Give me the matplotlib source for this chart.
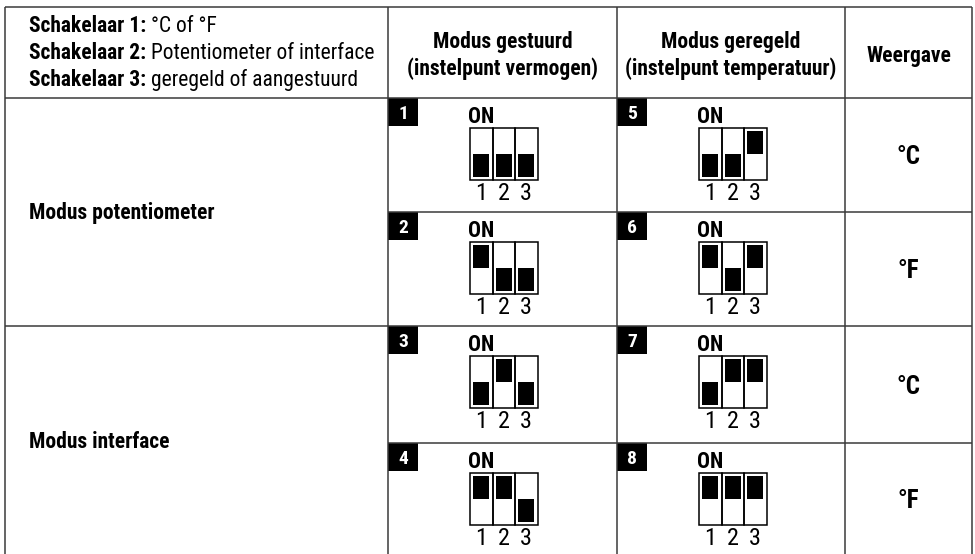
import matplotlib
matplotlib.use("Agg")
import matplotlib.pyplot as plt
from matplotlib import font_manager
from matplotlib.patches import Rectangle

# pick a narrow font if one is around
names = {f.name for f in font_manager.fontManager.ttflist}
font = next((n for n in ["Liberation Sans Narrow", "Roboto Condensed", "Liberation Sans"] if n in names), "DejaVu Sans")
plt.rcParams["font.family"] = [font, "DejaVu Sans"]

# table content
legend_keys = ["Schakelaar 1:", "Schakelaar 2:", "Schakelaar 3:"]
legend_vals = ["°C of °F", "Potentiometer of interface", "geregeld of aangestuurd"]
col_headers = [["Modus gestuurd", "(instelpunt vermogen)"],
               ["Modus geregeld", "(instelpunt temperatuur)"],
               ["Weergave"]]
modes = ["Modus potentiometer", "Modus interface"]
displays = ["°C", "°F", "°C", "°F"]

# DIP switch positions per setting (1 = ON / up)
settings = [1, 2, 3, 4, 5, 6, 7, 8]
switch1 = [0, 1, 0, 1, 0, 1, 0, 1]
switch2 = [0, 0, 1, 1, 0, 0, 1, 1]
switch3 = [0, 0, 0, 0, 1, 1, 1, 1]
switch_labels = ["1", "2", "3"]

# layout in pixels
col_x = [5, 388, 617, 845, 972]
row_y = [7, 98, 212, 326, 443, 554]
line_c = "#3a3a3a"
fs = 15.5

fig = plt.figure(figsize=(9.75, 5.54), dpi=100)
ax = fig.add_axes([0, 0, 1, 1])
ax.set_xlim(0, 975)
ax.set_ylim(554, 0)
ax.axis("off")

# grid lines
for y in [row_y[0], row_y[1], row_y[3]]:
    ax.plot([col_x[0], col_x[-1]], [y, y], color=line_c, lw=1.1, solid_capstyle="butt")
for y in [row_y[2], row_y[4]]:
    ax.plot([col_x[1], col_x[-1]], [y, y], color=line_c, lw=1.1, solid_capstyle="butt")
for x in col_x:
    ax.plot([x, x], [row_y[0], row_y[-1]], color=line_c, lw=1.1, solid_capstyle="butt")

# header, left cell with bold key + regular value
fig.canvas.draw()
renderer = fig.canvas.get_renderer()
for i, (k, v) in enumerate(zip(legend_keys, legend_vals)):
    yb = 32 + 27 * i
    t = ax.text(29, yb, k, fontsize=fs, fontweight="bold", va="baseline", ha="left")
    bb = t.get_window_extent(renderer)
    ax.text(bb.x1 + 5, yb, v, fontsize=fs, va="baseline", ha="left")

# header, other cells
for c, lines in enumerate(col_headers):
    cx = (col_x[c + 1] + col_x[c + 2]) / 2
    if len(lines) == 2:
        ax.text(cx, 48, lines[0], fontsize=fs, fontweight="bold", ha="center", va="baseline")
        ax.text(cx, 75, lines[1], fontsize=fs, fontweight="bold", ha="center", va="baseline")
    else:
        ax.text(cx, 62, lines[0], fontsize=fs, fontweight="bold", ha="center", va="baseline")

# mode labels (span two rows)
for m, label in enumerate(modes):
    ym = (row_y[1 + 2 * m] + row_y[3 + 2 * m]) / 2
    ax.text(29, ym + 7.5, label, fontsize=fs, fontweight="bold", ha="left", va="baseline")

# display column
for r, d in enumerate(displays):
    ym = (row_y[1 + r] + row_y[2 + r]) / 2
    ax.text((col_x[3] + col_x[4]) / 2, ym + 9, d, fontsize=18, fontweight="bold", ha="center", va="baseline")

# switch diagrams
cell_w = 22.5
for i, s in enumerate(settings):
    c = 1 + (s - 1) // 4
    r = (s - 1) % 4
    x0 = col_x[c]
    y0 = row_y[1 + r]
    # number tag
    ax.add_patch(Rectangle((x0, y0), 30, 28, color="black", lw=0))
    ax.text(x0 + 15, y0 + 21, str(s), color="white", fontsize=14, fontweight="bold", ha="center", va="baseline")
    bx = x0 + 82
    by = y0 + 30
    ax.text(bx - 2, by - 5, "ON", fontsize=fs, fontweight="bold", ha="left", va="baseline")
    states = [switch1[i], switch2[i], switch3[i]]
    for j, st in enumerate(states):
        cx = bx + j * cell_w
        ax.add_patch(Rectangle((cx, by), cell_w, 52, fill=False, ec="black", lw=1.1))
        ky = by + 3 if st else by + 26
        ax.add_patch(Rectangle((cx + 3.3, ky), 16, 23, color="black", lw=0))
        ax.text(cx + cell_w / 2, by + 72, switch_labels[j], fontsize=17.5, ha="center", va="baseline")

fig.savefig("out.png", dpi=100)
